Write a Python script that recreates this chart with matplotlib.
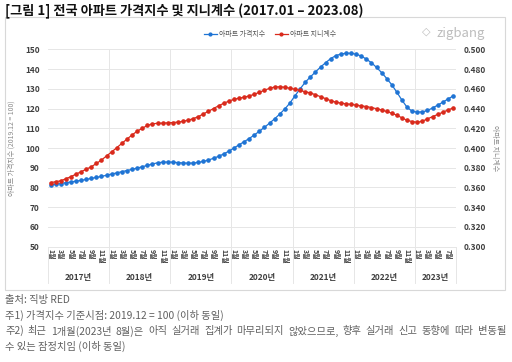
import numpy as np
import matplotlib
matplotlib.use("Agg")
import matplotlib.pyplot as plt
from matplotlib.patches import Rectangle
from matplotlib.lines import Line2D

plt.rcParams["font.family"] = ["Noto Sans CJK KR", "DejaVu Sans"]

# 2017.01 ~ 2023.08 monthly
years = ["2017년", "2018년", "2019년", "2020년", "2021년", "2022년", "2023년"]
months_per_year = [12, 12, 12, 12, 12, 12, 8]

price_index = [
    81.2, 81.6, 82.0, 82.4, 82.8, 83.2, 83.6, 84.1, 84.6, 85.1, 85.6, 86.2,
    86.8, 87.4, 88.0, 88.6, 89.2, 89.8, 90.5, 91.2, 91.9, 92.5, 92.8, 92.9,
    92.8, 92.6, 92.4, 92.3, 92.4, 92.7, 93.2, 93.9, 94.8, 95.8, 97.0, 98.4,
    100.0, 101.6, 103.2, 104.8, 106.6, 108.5, 110.5, 112.6, 114.8, 117.2, 119.8, 122.8,
    126.5, 130.0, 133.3, 136.0, 138.5, 141.0, 143.2, 145.3, 146.8, 147.6, 148.0, 148.0,
    147.5, 146.6, 145.0, 143.2, 140.8, 138.2, 135.2, 132.0, 128.2, 124.2, 120.6, 118.6,
    118.2, 118.3, 119.0, 120.3, 121.7, 123.2, 124.8, 126.3,
]

gini = [
    0.3650, 0.3658, 0.3668, 0.3688, 0.3710, 0.3735, 0.3760, 0.3785, 0.3810, 0.3843, 0.3878, 0.3920,
    0.3960, 0.4003, 0.4047, 0.4090, 0.4132, 0.4170, 0.4200, 0.4228, 0.4245, 0.4250, 0.4252, 0.4255,
    0.4258, 0.4262, 0.4270, 0.4282, 0.4297, 0.4318, 0.4345, 0.4372, 0.4400, 0.4428, 0.4453, 0.4475,
    0.4493, 0.4505, 0.4514, 0.4528, 0.4544, 0.4565, 0.4585, 0.4605, 0.4618, 0.4620, 0.4615, 0.4605,
    0.4595, 0.4583, 0.4570, 0.4558, 0.4540, 0.4520, 0.4500, 0.4480, 0.4465, 0.4455, 0.4448, 0.4442,
    0.4435, 0.4427, 0.4420, 0.4410, 0.4398, 0.4385, 0.4370, 0.4352, 0.4332, 0.4305, 0.4280, 0.4268,
    0.4260, 0.4272, 0.4295, 0.4318, 0.4340, 0.4362, 0.4385, 0.4405,
]

BLUE = "#1f74d4"
RED = "#d92a1c"
TICK = "#404040"
GRID = "#e6e6e6"
NOTE = "#606060"

n = len(price_index)
x = np.arange(n)

fig = plt.figure(figsize=(5.12, 3.62), dpi=100, facecolor="white")

# document frame around chart
fig.add_artist(Rectangle((5 / 512, 1 - 290 / 362), 500 / 512, 273 / 362,
                         transform=fig.transFigure, fill=False,
                         edgecolor="#d8d8d8", linewidth=0.8))

ax = fig.add_axes([48 / 512, 1 - 246.7 / 362, 407.5 / 512, 197.4 / 362])
ax2 = ax.twinx()

ax.plot(x, price_index, color=BLUE, lw=0.9, marker="o", ms=2.3, zorder=3)
ax2.plot(x, gini, color=RED, lw=0.9, marker="o", ms=2.3, zorder=3)

ax.set_xlim(-0.5, n - 0.5)
ax.set_ylim(50, 150)
ax.set_yticks(np.arange(50, 151, 10))
ax2.set_ylim(0.3, 0.5)
ax2.set_yticks(np.arange(0.30, 0.501, 0.02))
ax2.set_yticklabels([f"{v:.3f}" for v in np.arange(0.30, 0.501, 0.02)])

ax.grid(axis="y", color=GRID, lw=0.7)
starts = np.cumsum([0] + months_per_year)
for s in starts[1:-1]:
    ax.axvline(s - 0.5, color=GRID, lw=0.7, zorder=0)

for a in (ax, ax2):
    for sp in a.spines.values():
        sp.set_visible(False)
    a.tick_params(length=0, labelsize=6, labelcolor=TICK)
    for t in a.get_yticklabels():
        t.set_fontweight("bold")
ax.tick_params(axis="y", pad=6)
ax2.tick_params(axis="y", pad=6)

# month tick labels (odd months)
tick_pos, tick_lab = [], []
for s, m in zip(starts[:-1], months_per_year):
    for k in range(0, m, 2):
        tick_pos.append(s + k)
        tick_lab.append(f"{k + 1}월")
ax.set_xticks(tick_pos)
ax.set_xticklabels(tick_lab, rotation=-90, fontsize=5, fontweight="bold",
                   color=TICK, va="top", ha="center")
ax.tick_params(axis="x", pad=2)

# year group labels and separators below axis
tr = ax.get_xaxis_transform()
ax.plot([-0.5, n - 0.5], [0, 0], transform=tr, color=GRID, lw=0.7, clip_on=False)
for s in starts:
    ax.plot([s - 0.5, s - 0.5], [0, -0.185], transform=tr, color=GRID,
            lw=0.7, clip_on=False)
for yname, s, m in zip(years, starts[:-1], months_per_year):
    ax.text(s + m / 2 - 0.5, -0.155, yname, transform=tr, ha="center",
            va="center", fontsize=6, fontweight="bold", color=TICK)

ax.set_ylabel("아파트 가격지수 (2019.12 = 100)", fontsize=5, color="#8a8a8a",
              labelpad=7)
ax2.set_ylabel("아파트 지니계수", fontsize=5, color="#8a8a8a", rotation=-90,
               labelpad=9)

handles = [
    Line2D([], [], color=BLUE, lw=0.9, marker="o", ms=2),
    Line2D([], [], color=RED, lw=0.9, marker="o", ms=2),
]
fig.legend(handles, ["아파트 가격지수", "아파트 지니계수"], loc="center",
           bbox_to_anchor=(270 / 512, 1 - 34 / 362), ncol=2, frameon=False,
           fontsize=5, labelcolor="#555555", handlelength=1.8,
           handletextpad=0.3, columnspacing=1.5)

fig.text(485 / 512, 1 - 33 / 362, "zigbang", ha="right", va="center",
         fontsize=9.5, color="#bdbdbd")
fig.text(430 / 512, 1 - 32 / 362, "◇", ha="right", va="center",
         fontsize=8, color="#bdbdbd", family=["DejaVu Sans"])

fig.text(5 / 512, 1 - 11 / 362,
         "[그림 1] 전국 아파트 가격지수 및 지니계수 (2017.01 – 2023.08)",
         ha="left", va="center", fontsize=9.5, fontweight="bold", color="#111111")

notes = [
    "출처: 직방 RED",
    "주1) 가격지수 기준시점: 2019.12 = 100 (이하 동일)",
    "주2) 최근 1개월(2023년 8월)은 아직 실거래 집계가 마무리되지 않았으므로, 향후 실거래 신고 동향에 따라 변동될",
    "수 있는 잠정치임 (이하 동일)",
]
justify = [False, False, True, False]

renderer = fig.canvas.get_renderer()
left_px, right_px = 5, 506
for i, (t, just) in enumerate(zip(notes, justify)):
    ypos = 1 - (300 + 15.5 * i) / 362
    if not just:
        fig.text(left_px / 512, ypos, t, ha="left", va="center",
                 fontsize=7.4, color=NOTE)
        continue
    words = t.split(" ")
    arts = [fig.text(0, ypos, w, ha="left", va="center", fontsize=7.4,
                     color=NOTE) for w in words]
    widths = [a.get_window_extent(renderer).width for a in arts]
    gap = (right_px - left_px - sum(widths)) / (len(words) - 1)
    cur = left_px
    for a, w in zip(arts, widths):
        a.set_x(cur / 512)
        cur += w + gap

fig.savefig("out.png", dpi=100)
